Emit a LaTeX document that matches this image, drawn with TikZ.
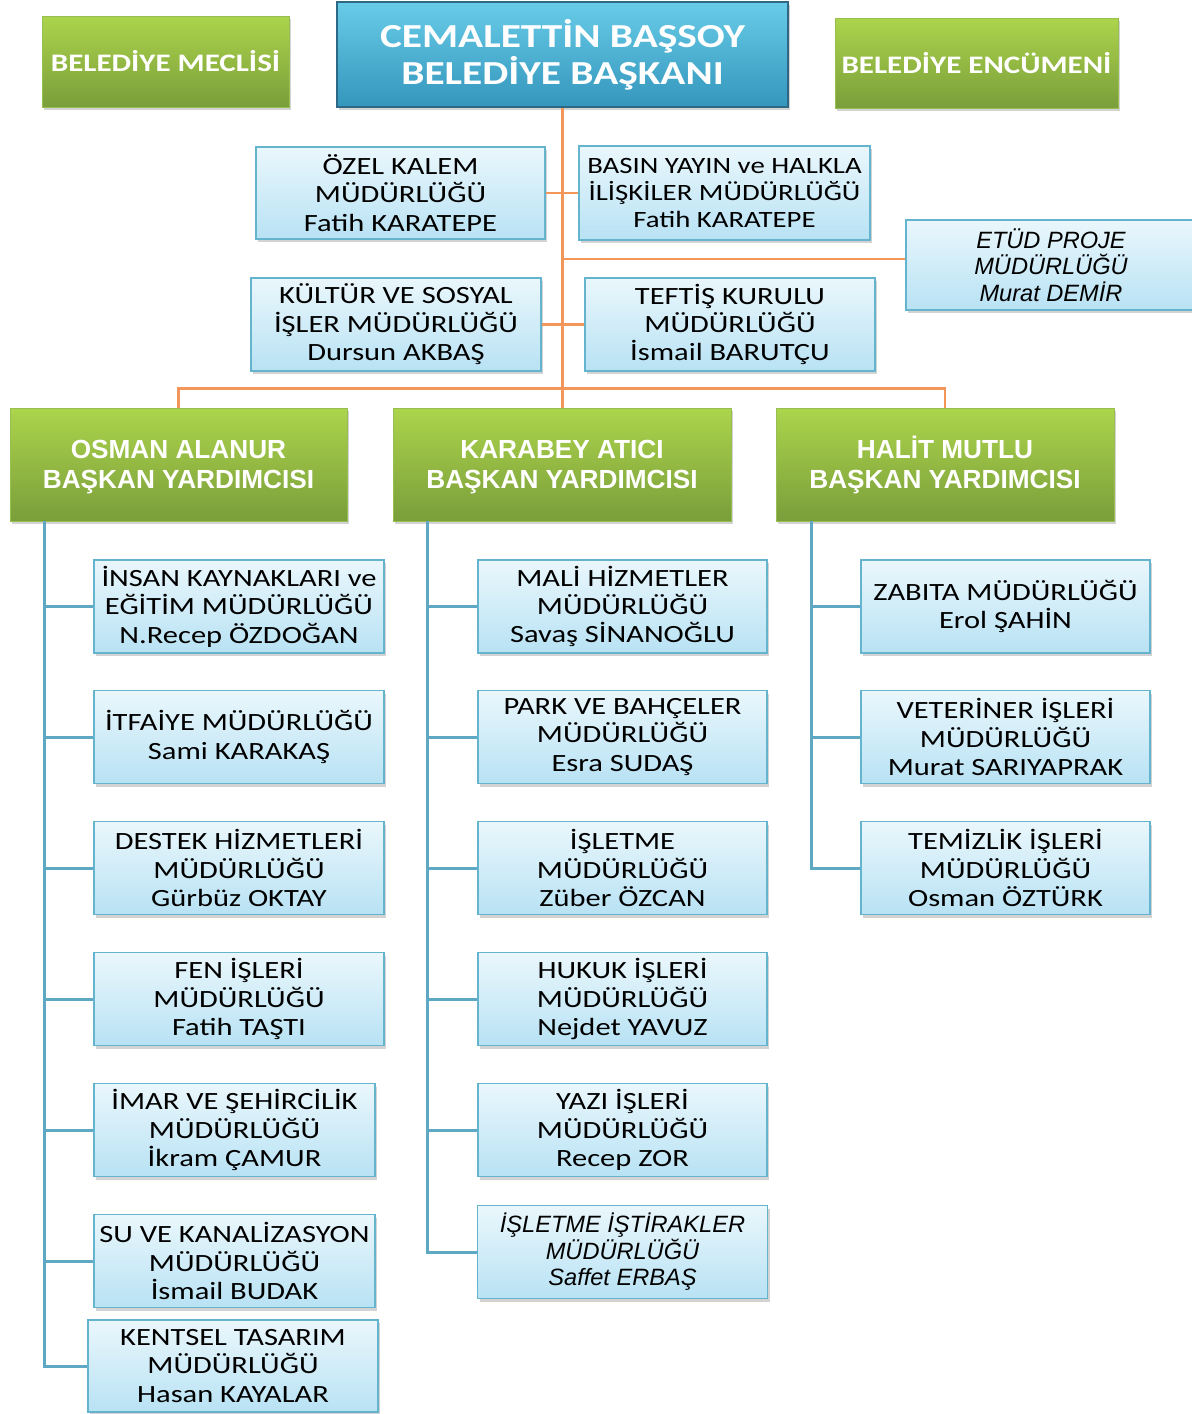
\documentclass[tikz,border=0pt]{standalone}
\usepackage{fontspec}
\setmainfont[FakeStretch=1.23]{Carlito}
\newfontfamily\arialf{Liberation Sans}
\usetikzlibrary{shadows}
\definecolor{greentop}{RGB}{172,212,76}
\definecolor{greenbot}{RGB}{122,158,58}
\definecolor{greenedge}{RGB}{150,190,80}
\definecolor{prestop}{RGB}{104,204,232}
\definecolor{presbot}{RGB}{52,150,188}
\definecolor{presedge}{RGB}{45,105,135}
\definecolor{unittop}{RGB}{234,247,252}
\definecolor{unitbot}{RGB}{184,226,244}
\definecolor{unitedge}{RGB}{100,180,205}
\definecolor{orgline}{RGB}{242,150,90}
\definecolor{bluline}{RGB}{95,168,195}
\newcommand{\vpph}{\vphantom{İÖ}}
\begin{document}
\begin{tikzpicture}[x=0.5pt,y=-0.5pt,
  wh/.style 2 args={minimum width=#1*0.5pt, minimum height=#2*0.5pt},
  boxbase/.style={rectangle, inner sep=0pt, align=center,
    drop shadow={shadow xshift=1pt, shadow yshift=-1.5pt, opacity=0.35}},
  unit/.style={boxbase, draw=unitedge, line width=0.7pt, top color=unittop,
    bottom color=unitbot, text=black, font=\fontsize{12.4}{14.2}\selectfont},
  itunit/.style={unit, font=\arialf\itshape\fontsize{11.8}{13.3}\selectfont},
  side/.style={boxbase, draw=greenedge, line width=0.5pt, top color=greentop,
    bottom color=greenbot, text=white, font=\bfseries\fontsize{12.6}{15}\selectfont},
  vp/.style={boxbase, draw=greenedge, line width=0.5pt, top color=greentop,
    bottom color=greenbot, text=white, font=\arialf\bfseries\fontsize{13.1}{15}\selectfont},
  presbox/.style={boxbase, draw=presedge, line width=1pt, top color=prestop,
    bottom color=presbot, text=white, font=\bfseries\fontsize{16.8}{18.3}\selectfont},
  org/.style={draw=orgline, line width=1.2pt},
  blu/.style={draw=bluline, line width=1.5pt}
]
\useasboundingbox (0,0) rectangle (1192,1414);

% top row
\node[side, wh={247}{91}] (mec) at (165.5,61.5) {BELEDİYE MECLİSİ};
\node[presbox, wh={451}{105}] (pres) at (562.5,54.5) {CEMALETTİN BAŞSOY\\BELEDİYE BAŞKANI};
\node[side, wh={283}{90}] (enc) at (976.5,63) {BELEDİYE ENCÜMENİ};

% staff units
\node[unit, wh={289}{92}] (ozel) at (400.5,193) {ÖZEL KALEM\\MÜDÜRLÜĞÜ\\Fatih KARATEPE};
\node[unit, wh={291}{94}, font=\fontsize{11.7}{13.5}\selectfont] (basin) at (724.5,193) {BASIN YAYIN ve HALKLA\\İLİŞKİLER MÜDÜRLÜĞÜ\\Fatih KARATEPE};
\node[itunit, wh={290}{90}] (etud) at (1051,265) {ETÜD PROJE\\MÜDÜRLÜĞÜ\\Murat DEMİR};
\node[unit, wh={290}{93}] (kultur) at (396,324.5) {KÜLTÜR VE SOSYAL\\İŞLER MÜDÜRLÜĞÜ\\Dursun AKBAŞ};
\node[unit, wh={290}{93}] (teftis) at (730,324.5) {TEFTİŞ KURULU\\MÜDÜRLÜĞÜ\\İsmail BARUTÇU};

% vice presidents
\node[vp, wh={337}{113}] (osman) at (178.5,464.5) {\vpph OSMAN ALANUR\\BAŞKAN YARDIMCISI};
\node[vp, wh={338}{113}] (karabey) at (562,464.5) {\vpph KARABEY ATICI\\BAŞKAN YARDIMCISI};
\node[vp, wh={338}{113}] (halit) at (945,464.5) {\vpph HALİT MUTLU\\BAŞKAN YARDIMCISI};

% left column
\node[unit, wh={290}{93}] (l1) at (239,606.5) {İNSAN KAYNAKLARI ve\\EĞİTİM MÜDÜRLÜĞÜ\\N.Recep ÖZDOĞAN};
\node[unit, wh={290}{93}] (l2) at (239,737) {İTFAİYE MÜDÜRLÜĞÜ\\Sami KARAKAŞ};
\node[unit, wh={290}{93}] (l3) at (239,868) {DESTEK HİZMETLERİ\\MÜDÜRLÜĞÜ\\Gürbüz OKTAY};
\node[unit, wh={290}{93}] (l4) at (239,999) {FEN İŞLERİ\\MÜDÜRLÜĞÜ\\Fatih TAŞTI};
\node[unit, wh={281}{93}] (l5) at (234.5,1130) {İMAR VE ŞEHİRCİLİK\\MÜDÜRLÜĞÜ\\İkram ÇAMUR};
\node[unit, wh={281}{93}] (l6) at (234.5,1261) {SU VE KANALİZASYON\\MÜDÜRLÜĞÜ\\İsmail BUDAK};
\node[unit, wh={290}{92}] (l7) at (233,1366) {KENTSEL TASARIM\\MÜDÜRLÜĞÜ\\Hasan KAYALAR};

% middle column
\node[unit, wh={289}{93}] (m1) at (622.5,606.5) {MALİ HİZMETLER\\MÜDÜRLÜĞÜ\\Savaş SİNANOĞLU};
\node[unit, wh={289}{93}] (m2) at (622.5,737) {PARK VE BAHÇELER\\MÜDÜRLÜĞÜ\\Esra SUDAŞ};
\node[unit, wh={289}{93}] (m3) at (622.5,868) {İŞLETME\\MÜDÜRLÜĞÜ\\Züber ÖZCAN};
\node[unit, wh={289}{93}] (m4) at (622.5,999) {HUKUK İŞLERİ\\MÜDÜRLÜĞÜ\\Nejdet YAVUZ};
\node[unit, wh={289}{93}] (m5) at (622.5,1130) {YAZI İŞLERİ\\MÜDÜRLÜĞÜ\\Recep ZOR};
\node[itunit, wh={290}{93}] (m6) at (622.5,1252) {İŞLETME İŞTİRAKLER\\MÜDÜRLÜĞÜ\\Saffet ERBAŞ};

% right column
\node[unit, wh={289}{93}] (r1) at (1005.5,606.5) {ZABITA MÜDÜRLÜĞÜ\\Erol ŞAHİN};
\node[unit, wh={289}{93}] (r2) at (1005.5,737) {VETERİNER İŞLERİ\\MÜDÜRLÜĞÜ\\Murat SARIYAPRAK};
\node[unit, wh={289}{93}] (r3) at (1005.5,868) {TEMİZLİK İŞLERİ\\MÜDÜRLÜĞÜ\\Osman ÖZTÜRK};

% orange connectors
\draw[org] (pres.south) -- (pres.south |- karabey.north);
\draw[org] (ozel.east) -- (basin.west);
\draw[org] (kultur.east) -- (teftis.west);
\draw[org] (pres.south |- etud.west) ++(0,-6) -- ([yshift=3pt]etud.west);
\draw[org] (osman.north) -- ++(0,-19) -| (halit.north);

% blue connectors
\coordinate (oa) at (44,521);
\coordinate (ka) at (427,521);
\coordinate (ha) at (811,521);
\draw[blu] (oa) |- (l7.west);
\foreach \n in {l1,l2,l3,l4,l5,l6} \draw[blu] (oa |- \n.west) -- (\n.west);
\draw[blu] (ka) |- (m6.west);
\foreach \n in {m1,m2,m3,m4,m5} \draw[blu] (ka |- \n.west) -- (\n.west);
\draw[blu] (ha) |- (r3.west);
\foreach \n in {r1,r2} \draw[blu] (ha |- \n.west) -- (\n.west);
\end{tikzpicture}
\end{document}
